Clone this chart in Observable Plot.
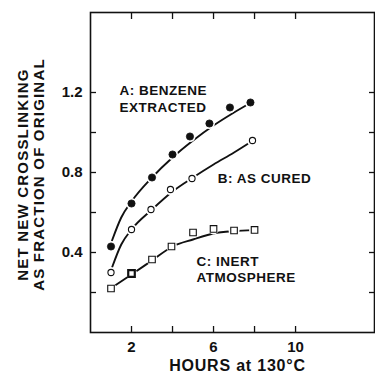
<!DOCTYPE html>
<html>
<head>
<meta charset="utf-8">
<script src="https://cdn.jsdelivr.net/npm/d3@7"></script>
<script src="https://cdn.jsdelivr.net/npm/@observablehq/plot@0.6"></script>
<style>
  html, body { margin: 0; padding: 0; background: #fff; }
  #chart svg { display: block; }
</style>
</head>
<body>
<div id="chart"></div>
<script>
// Series A: benzene extracted (filled circles)
const hoursA = [1, 2, 3, 4, 4.85, 5.8, 6.8, 7.8];
const valuesA = [0.43, 0.645, 0.775, 0.89, 0.98, 1.045, 1.125, 1.15];
// Series B: as cured (open circles)
const hoursB = [1, 2, 2.95, 3.9, 4.95, 7.9];
const valuesB = [0.30, 0.515, 0.615, 0.715, 0.77, 0.96];
// Series C: inert atmosphere (open squares)
const hoursC = [1, 2, 3, 3.95, 5, 6, 7, 8];
const valuesC = [0.22, 0.295, 0.365, 0.43, 0.50, 0.518, 0.51, 0.513];

// Smooth fitted curves drawn through the data
const fitHoursA = [1.05, 1.5, 2, 3, 4, 5, 6, 7, 7.75];
const fitValuesA = [0.46, 0.575, 0.655, 0.775, 0.875, 0.96, 1.035, 1.1, 1.145];
const fitHoursB = [1.05, 1.5, 2, 3, 4, 5, 6, 7, 7.85];
const fitValuesB = [0.325, 0.44, 0.515, 0.615, 0.705, 0.775, 0.84, 0.9, 0.955];
const fitHoursC = [1.05, 2, 3, 4, 5, 6, 7, 7.95];
const fitValuesC = [0.225, 0.29, 0.36, 0.43, 0.465, 0.495, 0.507, 0.512];

// Axis ticks and labels
const xTicks = [2, 4, 6, 8, 10];
const xTickLabels = [2, 6, 10];
const yTicks = [0.2, 0.4, 0.6, 0.8, 1.0, 1.2];
const yTickLabels = [0.4, 0.8, 1.2];

// Curve annotations (hours, value, text)
const annoText = ["A: BENZENE", "EXTRACTED", "B: AS CURED", "C: INERT", "ATMOSPHERE"];
const annoHours = [1.41, 1.41, 6.2, 5.17, 5.17];
const annoValues = [1.207, 1.125, 0.77, 0.355, 0.275];

const xTitle = "HOURS at 130°C";
const yTitle = "NET NEW CROSSLINKING\nAS FRACTION OF ORIGINAL";

const zip = (xs, ys) => xs.map((x, i) => ({x, y: ys[i]}));
const ptsA = zip(hoursA, valuesA);
const ptsB = zip(hoursB, valuesB);
const ptsC = zip(hoursC, valuesC);
const fitA = zip(fitHoursA, fitValuesA);
const fitB = zip(fitHoursB, fitValuesB);
const fitC = zip(fitHoursC, fitValuesC);
const anno = annoText.map((t, i) => ({t, x: annoHours[i], y: annoValues[i]}));
const allPts = [...ptsA, ...ptsB, ...ptsC];

const FONT = "Liberation Sans, Arial, sans-serif";

const chart = Plot.plot({
  width: 375,
  height: 379,
  marginLeft: 90,
  marginRight: 1,
  marginTop: 12,
  marginBottom: 47,
  style: {fontFamily: FONT, fontWeight: "bold", color: "#111", background: "#fff"},
  x: {domain: [0, 13.85]},
  y: {domain: [0, 1.6]},
  marks: [
    Plot.frame({stroke: "#111", strokeWidth: 1.6}),
    // inward ticks on all four sides
    Plot.axisX(xTicks, {anchor: "bottom", label: null, tickSize: -6, tickFormat: () => "", stroke: "#111", strokeWidth: 1.3}),
    Plot.axisX(xTicks, {anchor: "top", label: null, tickSize: -6, tickFormat: () => "", stroke: "#111", strokeWidth: 1.3}),
    Plot.axisY(yTicks, {anchor: "left", label: null, tickSize: -6, tickFormat: () => "", stroke: "#111", strokeWidth: 1.3}),
    Plot.axisY(yTicks, {anchor: "right", label: null, tickSize: -6, tickFormat: () => "", stroke: "#111", strokeWidth: 1.3}),
    // tick labels
    Plot.axisX(xTickLabels, {anchor: "bottom", tickSize: 0, tickPadding: 9, fontSize: 15, fontWeight: "bold", label: null, tickFormat: d => String(d)}),
    Plot.axisY(yTickLabels, {anchor: "left", tickSize: 0, tickPadding: 8, fontSize: 15, fontWeight: "bold", label: null, tickFormat: d => d.toFixed(1)}),
    // axis titles
    Plot.text([xTitle], {frameAnchor: "bottom", text: d => d, textAnchor: "middle", dy: 38, dx: 5, fontSize: 16, fontWeight: "bold", fill: "#111", className: "xtitle"}),
    Plot.text([yTitle], {frameAnchor: "left", text: d => d, textAnchor: "middle", rotate: -90, dx: -60, dy: 2, fontSize: 15, fontWeight: "bold", lineHeight: 1.1, fill: "#111", className: "ytitle"}),
    // fitted curves
    Plot.line(fitA, {x: "x", y: "y", curve: "monotone-x", stroke: "#111", strokeWidth: 1.9}),
    Plot.line(fitB, {x: "x", y: "y", curve: "monotone-x", stroke: "#111", strokeWidth: 1.9}),
    Plot.line(fitC, {x: "x", y: "y", curve: "monotone-x", stroke: "#111", strokeWidth: 1.9}),
    // white halos to break the curves at the markers
    Plot.dot(allPts, {x: "x", y: "y", r: 5.5, fill: "#fff"}),
    // markers
    Plot.dot(ptsA, {x: "x", y: "y", r: 3.6, fill: "#111", stroke: "#111", strokeWidth: 0.8}),
    Plot.dot(ptsB, {x: "x", y: "y", r: 3.1, fill: "#fff", stroke: "#111", strokeWidth: 1.1}),
    Plot.dot(ptsC, {x: "x", y: "y", r: 3.7, symbol: "square", fill: "#fff", stroke: "#111", strokeWidth: d => d.x === 2 ? 2.2 : 1.1}),
    // annotations
    Plot.text(anno, {x: "x", y: "y", text: "t", textAnchor: "start", fontSize: 13.5, fontWeight: "bold", fill: "#111", className: "anno"})
  ]
});
// letter spacing (style only)
d3.select(chart).selectAll(".ytitle text").style("letter-spacing", "1.2px");
d3.select(chart).selectAll(".xtitle text").style("letter-spacing", "0.8px");
d3.select(chart).selectAll(".anno text").style("letter-spacing", "0.5px");
document.getElementById("chart").appendChild(chart);
</script>
</body>
</html>
